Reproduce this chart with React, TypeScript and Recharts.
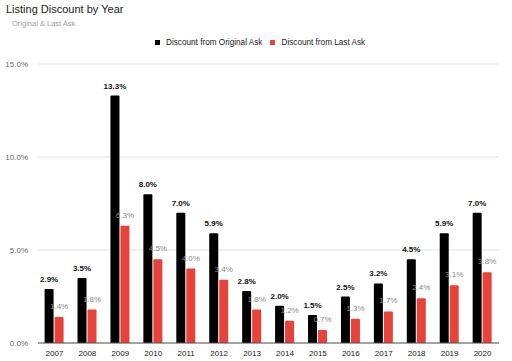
import React from "react";
import { BarChart, Bar, XAxis, YAxis, CartesianGrid, LabelList } from "recharts";

const years = ["2007", "2008", "2009", "2010", "2011", "2012", "2013", "2014", "2015", "2016", "2017", "2018", "2019", "2020"];
const originalAsk = [2.9, 3.5, 13.3, 8.0, 7.0, 5.9, 2.8, 2.0, 1.5, 2.5, 3.2, 4.5, 5.9, 7.0];
const lastAsk = [1.4, 1.8, 6.3, 4.5, 4.0, 3.4, 1.8, 1.2, 0.7, 1.3, 1.7, 2.4, 3.1, 3.8];
const yTicks = [0, 5, 10, 15];

const FONT = "'Liberation Sans', Arial, sans-serif";
const RED = "#e8433a";

const pct = (v: number) => `${Number(v).toFixed(1)}%`;

export default function App() {
  const data = years.map((year, i) => ({
    year,
    original: originalAsk[i],
    last: lastAsk[i],
  }));

  return (
    <div
      style={{
        position: "absolute",
        left: 0,
        top: 0,
        width: 512,
        height: 361,
        background: "#fff",
        fontFamily: FONT,
      }}
    >
      <div style={{ position: "absolute", left: 6, top: 3, fontSize: 11, color: "#222" }}>
        Listing Discount by Year
      </div>
      <div style={{ position: "absolute", left: 12, top: 19, fontSize: 7.5, color: "#a0a0a0" }}>
        Original &amp; Last Ask
      </div>
      <div
        style={{
          position: "absolute",
          left: 155,
          top: 38,
          display: "flex",
          alignItems: "center",
          fontSize: 8.2,
          color: "#222",
        }}
      >
        <span style={{ width: 5, height: 5, background: "#000", display: "inline-block", marginRight: 6 }} />
        <span style={{ marginRight: 8 }}>Discount from Original Ask</span>
        <span style={{ width: 5, height: 5, background: RED, display: "inline-block", marginRight: 6 }} />
        <span>Discount from Last Ask</span>
      </div>
      <BarChart
        width={512}
        height={361}
        data={data}
        margin={{ top: 64, right: 13, bottom: 0, left: 0 }}
        barCategoryGap="20%"
        barGap={1}
      >
        <CartesianGrid vertical={false} stroke="#e2e2e2" />
        <XAxis
          dataKey="year"
          height={18}
          tickLine={false}
          axisLine={{ stroke: "#555" }}
          tick={{ fontSize: 8, fill: "#222", fontFamily: FONT }}
          tickMargin={1}
        />
        <YAxis
          width={38}
          domain={[0, 15]}
          ticks={yTicks}
          tickFormatter={pct}
          axisLine={false}
          tickLine={false}
          tick={{ fontSize: 8, fill: "#666", fontFamily: FONT }}
          tickMargin={4}
        />
        <Bar dataKey="original" fill="#000" radius={[1, 1, 0, 0]} isAnimationActive={false}>
          <LabelList
            dataKey="original"
            position="top"
            offset={7}
            formatter={pct}
            style={{ fontSize: 8, fontWeight: "bold", fill: "#111", fontFamily: FONT }}
          />
        </Bar>
        <Bar dataKey="last" fill={RED} radius={[1, 1, 0, 0]} isAnimationActive={false}>
          <LabelList
            dataKey="last"
            position="top"
            offset={8}
            formatter={pct}
            style={{ fontSize: 8, fill: "#888", fontFamily: FONT }}
          />
        </Bar>
      </BarChart>
    </div>
  );
}
